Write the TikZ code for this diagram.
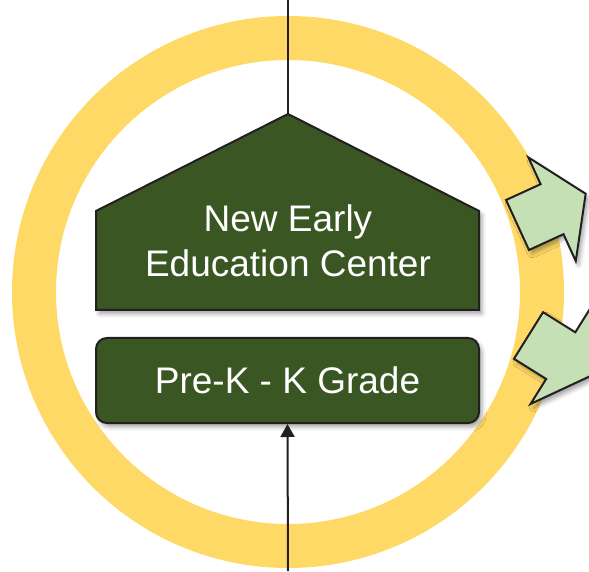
\documentclass[tikz,border=0pt]{standalone}
\usepackage{fontspec}
\setmainfont{Liberation Sans}
\usetikzlibrary{arrows.meta,shadows.blur}
\definecolor{ringyellow}{HTML}{FFD966}
\definecolor{darkgreen}{HTML}{3A5723}
\definecolor{lightgreen}{HTML}{C5E0B4}
\definecolor{outline}{HTML}{231F20}
\begin{document}
\begin{tikzpicture}[x=1pt,y=1pt,
 shade/.style={blur shadow={shadow xshift=3pt, shadow yshift=-4pt, shadow opacity=35, shadow blur radius=4pt}},
 housebox/.style={fill=darkgreen, draw=outline, line width=2pt, shade},
 gradebox/.style={housebox, rounded corners=11pt, minimum width=383, minimum height=85, inner sep=0pt},
 label/.style={text=white, align=center, font=\fontsize{37}{45}\selectfont},
 flow/.style={fill=lightgreen, draw=outline, line width=2pt, line join=miter, shade},
 link/.style={draw=outline, line width=2pt},
]
\useasboundingbox (0,0) rectangle (589,571);
\clip (0,0) rectangle (589,571);

%ring
\draw[ringyellow, line width=44pt] (288,279) circle (254);

%house
\draw[housebox] (96,261) -- (96,360) -- (288,457) -- (479,360) -- (479,261) -- cycle;
\node[label] (center) at (288,330.5) {New Early\\Education Center};
\node[gradebox, label] (grade) at (287.5,190.5) {Pre-K - K Grade};

%lines
\coordinate (apex) at (288,457);
\coordinate (top end) at (288,571);
\coordinate (bottom end) at (288,0);
\draw[link] (top end) -- (apex);
\draw[link, -{Triangle[length=13pt,width=14pt]}] (bottom end) -- (grade.south);

%arrows
\foreach \px/\py/\ang in {517.5/346/24.6, 528.5/235.5/-32}
 \draw[flow, shift={(\px,\py)}, rotate=\ang]
 (0,-27.5) -- (38,-27.5) -- (38,-57) -- (75,0) -- (38,57) -- (38,27.5) -- (0,27.5) -- cycle;

\end{tikzpicture}
\end{document}
